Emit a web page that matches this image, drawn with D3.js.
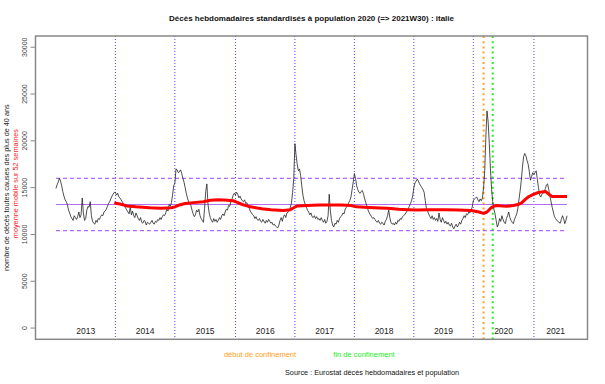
<!DOCTYPE html>
<html>
<head>
<meta charset="utf-8">
<script src="https://cdn.jsdelivr.net/npm/d3@7"></script>
<style>
  body { margin: 0; background: #fff; }
  svg { display: block; font-family: "Liberation Sans", Arial, sans-serif; }
</style>
</head>
<body>
<svg id="chart" width="605" height="384"></svg>
<script>
// === Data: weekly standardised deaths (40+), Italy ===
const years = ['2013', '2014', '2015', '2016', '2017', '2018', '2019', '2020', '2021'];
const yearStartWeek = [0, 52, 104, 157, 209, 261, 313, 365, 418]; // index of week 1 of each year

const deaths2013 = [14900, 15300, 15600, 16000, 15700, 15200, 14600, 14100, 13700, 13500,
  13200, 12600, 12300, 11900, 11700, 11500, 12000, 11800, 11600, 11900,
  12400, 11800, 12100, 13900, 12300, 11500, 11700, 12600, 13000, 12900,
  13500, 12000, 11400, 11200, 11100, 11500, 11300, 11700, 11600, 11900,
  12100, 12000, 12400, 12500, 12700, 13000, 13300, 13500, 13800, 14100,
  14300, 14500];
const deaths2014 = [14500, 14200, 14400, 14000, 13900, 13700, 13500, 13300, 13000, 12800,
  12600, 12400, 12200, 12900, 12100, 12500, 12000, 11800, 12300, 12000,
  11700, 11500, 11800, 11300, 11200, 11500, 11400, 11000, 11300, 11200,
  11100, 11300, 11500, 11200, 11100, 11400, 11300, 11600, 11500, 11800,
  11600, 11900, 12100, 12000, 12300, 12700, 12500, 13200, 13000, 13400,
  14200, 15200];
const deaths2015 = [15500, 17000, 16900, 16600, 16700, 16900, 16500, 16000, 15600, 15000,
  14400, 13900, 13500, 13300, 13100, 12600, 12200, 11900, 12100, 12600,
  12400, 12700, 12000, 11700, 11500, 11300, 12800, 14600, 15400, 13200,
  12300, 11800, 11500, 11300, 11700, 11400, 11600, 11300, 11500, 11800,
  11600, 12000, 12200, 12000, 12400, 12700, 12600, 13100, 13000, 13500,
  13800, 14200, 14400];
const deaths2016 = [14200, 14500, 14300, 13900, 14100, 13800, 13600, 13500, 13700, 13300,
  13400, 13000, 12800, 12500, 12300, 12100, 12000, 11700, 11900, 11600,
  11500, 11700, 11400, 11300, 11600, 11400, 11200, 11500, 11300, 11600,
  11400, 11200, 11300, 11000, 11100, 10900, 10800, 10700, 11000, 11500,
  11800, 11400, 11900, 12100, 11800, 12300, 12400, 12500, 12900, 13400,
  14500, 16000];
const deaths2017 = [19700, 18500, 17500, 16800, 17000, 16300, 15200, 14200, 13600, 13200,
  12900, 12600, 12400, 12100, 12300, 11900, 11800, 12000, 11700, 11900,
  11600, 11700, 11500, 11800, 11500, 11300, 11600, 11200, 11400, 12000,
  14300, 12500, 11500, 11000, 10800, 11200, 11100, 11500, 11300, 11700,
  11900, 12000, 12300, 12200, 12700, 12900, 13100, 13400, 13600, 14000,
  14800, 15600];
const deaths2018 = [16500, 16000, 15200, 14800, 14500, 14400, 14600, 14700, 14300, 13800,
  13400, 13000, 12600, 12300, 12100, 11900, 11700, 11800, 11600, 11400,
  11300, 11500, 11200, 11100, 11300, 11200, 11000, 11400, 11600, 12000,
  12600, 11800, 11300, 11100, 11200, 11000, 11300, 11100, 11500, 11400,
  11700, 11600, 11900, 12000, 12100, 12300, 12500, 12700, 13000, 13300,
  13600, 14100];
const deaths2019 = [15000, 15500, 15700, 15900, 15700, 15400, 15200, 15000, 14800, 14500,
  13600, 12800, 12500, 12200, 11900, 11700, 12000, 11600, 11800, 11500,
  11700, 11400, 12300, 11600, 11300, 11800, 11500, 11200, 11400, 11100,
  11300, 11000, 10900, 11200, 10800, 10600, 10900, 11100, 10800, 11000,
  11300, 11100, 11500, 11700, 12000, 11800, 12200, 12100, 12400, 12300,
  12600, 12900];
const deaths2020 = [13600, 13800, 13900, 14000, 13700, 13500, 13800, 13600, 13900, 15000,
  16800, 20500, 23200, 22000, 19700, 17000, 14800, 13500, 12700, 12200,
  11500, 10800, 11100, 11700, 11400, 12000, 11600, 11300, 11150, 11700,
  12000, 12400, 11800, 11500, 11300, 11150, 11600, 11900, 12200, 12800,
  13800, 14700, 15800, 17200, 18300, 18650, 18400, 17900, 17500, 16700,
  15800, 16200, 16600];
const deaths2021 = [16400, 16600, 16800, 15900, 15000, 14200, 14000, 14300, 14400, 14500,
  14900, 15300, 15400, 14800, 14100, 13500, 12900, 12400, 11900, 11700,
  11500, 11400, 11300, 11200, 11600, 12000, 11700, 11150, 11500, 12000];

// 52-week moving average, read at these week indexes
const maWeek = [51, 56, 62, 70, 82, 92, 101, 104, 108, 113, 120, 129, 135, 142, 150, 155, 158, 163,
  170, 180, 188, 199, 205, 208, 211, 220, 230, 240, 250, 258, 263, 270, 278, 290, 300, 308, 316,
  325, 340, 352, 363, 370, 374, 377, 381, 385, 394, 400, 404, 407, 410, 413, 417, 421, 425, 428,
  431, 434, 440, 447];
const maValue = [13350, 13250, 13050, 12950, 12850, 12800, 12850, 12950, 13150, 13300, 13400, 13500,
  13650, 13700, 13650, 13600, 13450, 13200, 12950, 12750, 12650, 12550, 12650, 12850, 13050, 13100,
  13150, 13150, 13150, 13100, 12950, 12900, 12850, 12800, 12700, 12650, 12600, 12650, 12650, 12600,
  12550, 12400, 12250, 12400, 12900, 13100, 13000, 13100, 13200, 13350, 13700, 14000, 14250, 14450,
  14550, 14600, 14300, 14050, 14050, 14050];

// reference levels (mean and band)
const meanLevel = 13200;
const bandLevels = [16000, 10400];

// lockdown start / end (week index)
const lockdownStart = 374;
const lockdownEnd = 382;

const yTicks = [0, 5000, 10000, 15000, 20000, 25000, 30000];

// === Setup ===
const deaths = [].concat(deaths2013, deaths2014, deaths2015, deaths2016, deaths2017,
  deaths2018, deaths2019, deaths2020, deaths2021);
const series = deaths.map((v, i) => ({ i, v }));
const ma = maWeek.map((w, k) => ({ i: w, v: maValue[k] }));
const last = deaths.length - 1;

const box = { left: 35.5, right: 587.5, top: 36, bottom: 339.3 };
const svg = d3.select('#chart');

const x = d3.scaleLinear()
  .domain([-0.04 * last, last * 1.04])
  .range([box.left, box.right]);
const y = d3.scaleLinear()
  .domain([-1200, 31200])
  .range([box.bottom, box.top]);

// === Year separators (blue dotted) ===
svg.selectAll('line.year')
  .data(yearStartWeek.slice(1))
  .join('line')
  .attr('class', 'year')
  .attr('x1', d => x(d)).attr('x2', d => x(d))
  .attr('y1', box.top).attr('y2', box.bottom)
  .attr('stroke', '#4a4aff')
  .attr('stroke-width', 1)
  .attr('stroke-dasharray', '1,2');

// lockdown lines
[[lockdownStart, '#ffa020'], [lockdownEnd, '#22ee22']].forEach(([w, c]) => {
  svg.append('line')
    .attr('x1', x(w)).attr('x2', x(w))
    .attr('y1', box.top).attr('y2', box.bottom)
    .attr('stroke', c)
    .attr('stroke-width', 2)
    .attr('stroke-dasharray', '2,3.2');
});

// === Mean and band lines ===
svg.append('line')
  .attr('x1', x(0)).attr('x2', x(last))
  .attr('y1', y(meanLevel)).attr('y2', y(meanLevel))
  .attr('stroke', '#b36ef0')
  .attr('stroke-width', 1);
svg.selectAll('line.band')
  .data(bandLevels)
  .join('line')
  .attr('class', 'band')
  .attr('x1', x(0)).attr('x2', x(last))
  .attr('y1', d => y(d)).attr('y2', d => y(d))
  .attr('stroke', '#a040f5')
  .attr('stroke-width', 1)
  .attr('stroke-dasharray', '4,3');

// === Weekly deaths ===
const line = d3.line().x(d => x(d.i)).y(d => y(d.v));
svg.append('path')
  .datum(series)
  .attr('d', line)
  .attr('fill', 'none')
  .attr('stroke', '#222')
  .attr('stroke-width', 0.8);

// === Moving average ===
svg.append('path')
  .datum(ma)
  .attr('d', line)
  .attr('fill', 'none')
  .attr('stroke', '#ff0000')
  .attr('stroke-width', 3)
  .attr('stroke-linejoin', 'round');

// === Box and y axis ===
svg.append('rect')
  .attr('x', box.left).attr('y', box.top)
  .attr('width', box.right - box.left)
  .attr('height', box.bottom - box.top)
  .attr('fill', 'none')
  .attr('stroke', '#888')
  .attr('stroke-width', 1.5);

svg.selectAll('line.ytick')
  .data(yTicks)
  .join('line')
  .attr('class', 'ytick')
  .attr('x1', box.left - 5).attr('x2', box.left)
  .attr('y1', d => y(d)).attr('y2', d => y(d))
  .attr('stroke', '#888');

svg.selectAll('text.ytick')
  .data(yTicks)
  .join('text')
  .attr('class', 'ytick')
  .attr('transform', d => `translate(27,${y(d)}) rotate(-90)`)
  .attr('text-anchor', 'middle')
  .attr('font-size', 7)
  .attr('fill', '#444')
  .text(d => d);

// year labels
svg.selectAll('text.yearlab')
  .data(years)
  .join('text')
  .attr('class', 'yearlab')
  .attr('x', (d, k) => k < years.length - 1
    ? x((yearStartWeek[k] + yearStartWeek[k + 1]) / 2)
    : x(yearStartWeek[k] + 19))
  .attr('y', 334)
  .attr('text-anchor', 'middle')
  .attr('font-size', 8.5)
  .attr('fill', '#222')
  .text(d => d);

// axis titles
const midY = (box.top + box.bottom) / 2;
svg.append('text')
  .attr('transform', `translate(9,${midY}) rotate(-90)`)
  .attr('text-anchor', 'middle')
  .attr('font-size', 7.3)
  .attr('fill', '#222')
  .text('nombre de décès toutes causes des plus de 40 ans');
svg.append('text')
  .attr('transform', `translate(17.5,${midY - 4}) rotate(-90)`)
  .attr('text-anchor', 'middle')
  .attr('font-size', 7.3)
  .attr('fill', '#ff2020')
  .text('moyenne mobile sur 52 semaines');

// title
svg.append('text')
  .attr('x', (box.left + box.right) / 2)
  .attr('y', 21)
  .attr('text-anchor', 'middle')
  .attr('font-size', 8)
  .attr('font-weight', 'bold')
  .attr('fill', '#111')
  .text('Décès hebdomadaires standardisés à population 2020 (=> 2021W30) : italie');

// bottom notes
svg.append('text')
  .attr('x', 260).attr('y', 357)
  .attr('text-anchor', 'middle')
  .attr('font-size', 7.5)
  .attr('fill', '#ffa020')
  .text('début de confinement');
svg.append('text')
  .attr('x', 364).attr('y', 357)
  .attr('text-anchor', 'middle')
  .attr('font-size', 7.5)
  .attr('fill', '#22ee22')
  .text('fin de confinement');
svg.append('text')
  .attr('x', 372).attr('y', 375)
  .attr('text-anchor', 'middle')
  .attr('font-size', 7.3)
  .attr('fill', '#111')
  .text('Source : Eurostat décès hebdomadaires et population');
</script>
</body>
</html>
